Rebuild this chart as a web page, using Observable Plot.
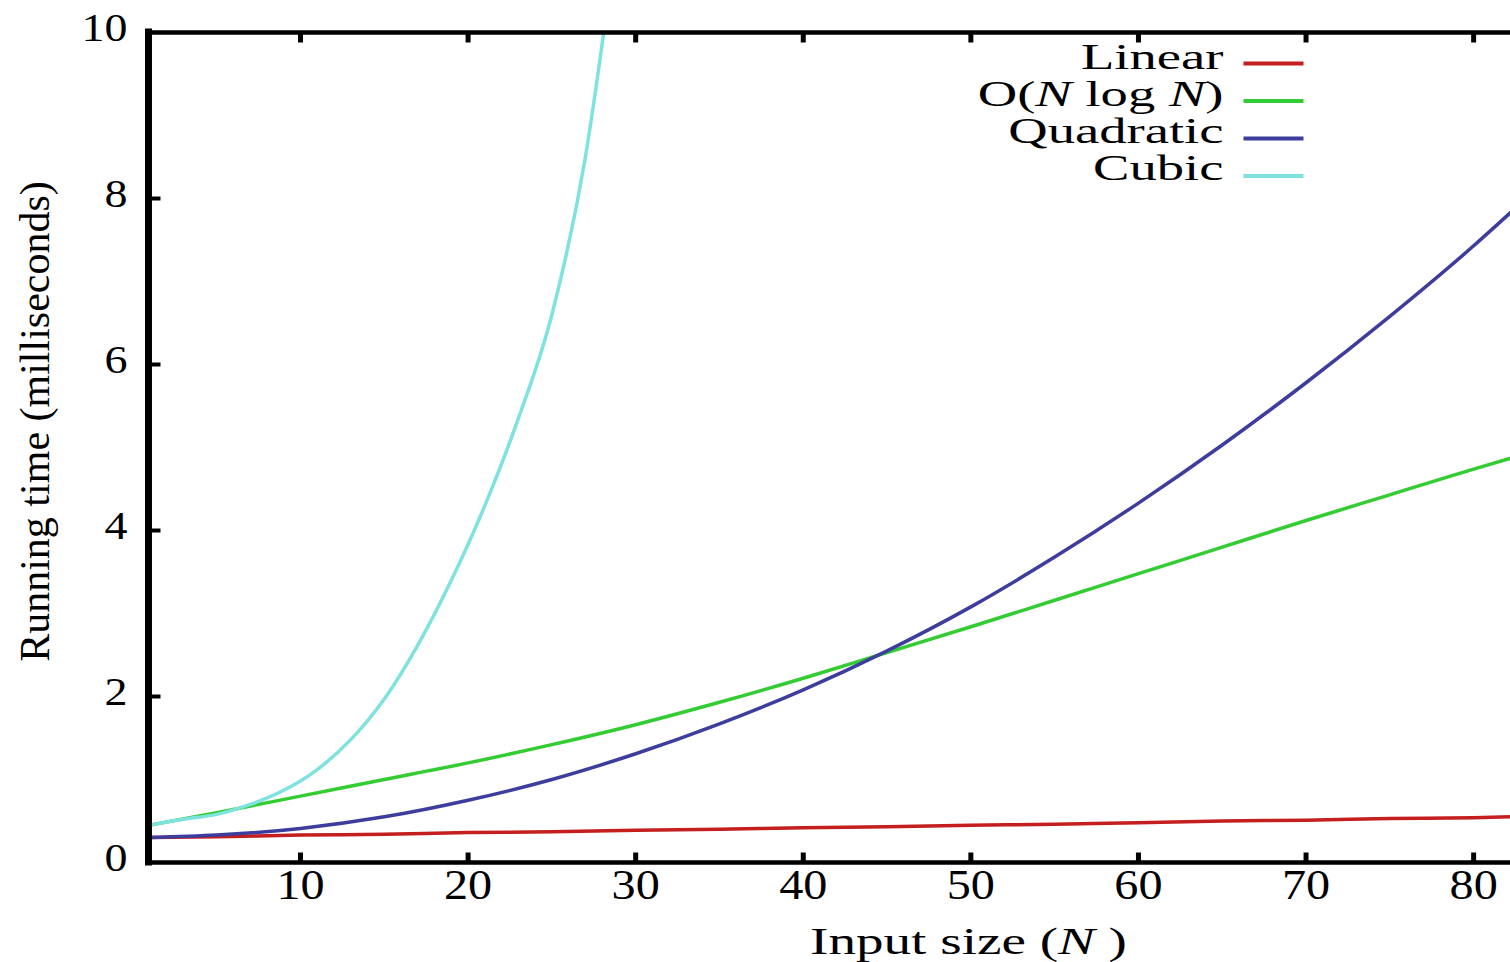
<!DOCTYPE html>
<html><head><meta charset="utf-8">
<script src="https://cdn.jsdelivr.net/npm/d3@7"></script>
<script src="https://cdn.jsdelivr.net/npm/@observablehq/plot@0.6"></script>
<style>html,body{margin:0;padding:0;background:#fff;overflow:hidden}</style>
</head><body><div id="chart"></div>
<script>
// ---- data ----
const seriesNames = ["Linear", "O(N log N)", "Quadratic", "Cubic"];
const seriesColors = ["#c41e1e", "#33cc33", "#3d3d9e", "#7ee2de"];

const xN = [1, 5, 10, 15, 20, 25, 30, 35, 40, 45, 50, 55, 60, 65, 70, 75, 80, 82.2];
const linear    = [0.30, 0.31, 0.33, 0.34, 0.36, 0.37, 0.39, 0.40, 0.42, 0.43, 0.45, 0.46, 0.48, 0.50, 0.51, 0.53, 0.54, 0.55];
const nlogn     = [0.45, 0.60, 0.80, 1.00, 1.20, 1.42, 1.66, 1.93, 2.22, 2.53, 2.84, 3.16, 3.48, 3.80, 4.12, 4.43, 4.74, 4.87];
const quadratic = [0.30, 0.33, 0.41, 0.55, 0.75, 1.00, 1.31, 1.67, 2.08, 2.55, 3.08, 3.68, 4.33, 5.03, 5.78, 6.58, 7.43, 7.83];

const xCubic = [1, 3, 5, 7, 9, 11, 13, 15, 17, 19, 21, 23, 25, 27, 28.5];
const cubic  = [0.45, 0.52, 0.58, 0.70, 0.87, 1.12, 1.48, 1.97, 2.62, 3.40, 4.30, 5.35, 6.60, 8.50, 10.6];

const xTicks = [10, 20, 30, 40, 50, 60, 70, 80];
const yTicks = [0, 2, 4, 6, 8, 10];
const yInnerTicks = [2, 4, 6, 8];
const xDomain = [0.93, 82.2];
const yDomain = [0, 10];
const xLabel = "Input size (N )";
const yLabel = "Running time (milliseconds)";

// ---- long table for the line mark ----
const rows = [];
const addSeries = (name, xs, ys) => xs.forEach((x, i) => rows.push({series: name, n: x, t: ys[i]}));
addSeries(seriesNames[0], xN, linear);
addSeries(seriesNames[1], xN, nlogn);
addSeries(seriesNames[2], xN, quadratic);
addSeries(seriesNames[3], xCubic, cubic);

// custom symbols for inward ticks and legend swatches
const tickUp    = {draw(c) { c.moveTo(0, 0); c.lineTo(0, -10); }};
const tickDown  = {draw(c) { c.moveTo(0, 0); c.lineTo(0, 10); }};
const tickRight = {draw(c) { c.moveTo(0, 0); c.lineTo(12, 0); }};
const swatch    = {draw(c) { c.moveTo(-30, 0); c.lineTo(30, 0); }};

const chart = Plot.plot({
  width: 1510,
  height: 962,
  marginLeft: 148,
  marginRight: 0,
  marginTop: 32,
  marginBottom: 100,
  style: {fontFamily: "'Liberation Serif', 'Times New Roman', serif", background: "#fff", color: "#000"},
  x: {domain: xDomain},
  y: {domain: yDomain},
  color: {domain: seriesNames, range: seriesColors},
  marks: [
    Plot.line(rows, {x: "n", y: "t", z: "series", stroke: "series", strokeWidth: 3.5, curve: "monotone-x", clip: true}),
    // frame (left, top, bottom)
    Plot.ruleY([yDomain[0], yDomain[1]], {stroke: "#000", strokeWidth: 4.5}),
    Plot.ruleX([xDomain[0]], {stroke: "#000", strokeWidth: 7, strokeLinecap: "square"}),
    // inward ticks
    Plot.dot(xTicks, {x: d => d, frameAnchor: "bottom", symbol: tickUp, stroke: "#000", strokeWidth: 5, fill: "none"}),
    Plot.dot(xTicks, {x: d => d, frameAnchor: "top", symbol: tickDown, stroke: "#000", strokeWidth: 5, fill: "none"}),
    Plot.dot(yInnerTicks, {y: d => d, frameAnchor: "left", symbol: tickRight, stroke: "#000", strokeWidth: 4, fill: "none"}),
    // tick labels
    Plot.axisX({ticks: xTicks, anchor: "bottom", tickSize: 0, tickPadding: 6, fontSize: 43, label: null}),
    Plot.axisY({ticks: yTicks, anchor: "left", tickSize: 0, tickPadding: 21, dy: -5, fontSize: 41, label: null}),
    // axis titles
    Plot.text([xLabel], {frameAnchor: "bottom", dx: 139, dy: 79, fontSize: 38, textAnchor: "middle", lineAnchor: "middle"}),
    Plot.text([yLabel], {frameAnchor: "left", rotate: -90, dx: -113, dy: -26, fontSize: 42, textAnchor: "middle", lineAnchor: "middle"}),
    // legend
    ...seriesNames.map((name, i) => Plot.text([name], {frameAnchor: "top-right", dx: -287, dy: 25 + i * 37, fontSize: 35, textAnchor: "end", lineAnchor: "middle"})),
    ...seriesNames.map((name, i) => Plot.dot([name], {frameAnchor: "top-right", dx: -237, dy: 31 + i * 37.5, symbol: swatch, stroke: seriesColors[i], strokeWidth: 4, fill: "none"}))
  ]
});

document.getElementById("chart").append(chart);

// italic N in labels
chart.querySelectorAll("text").forEach(t => {
  const s = t.textContent;
  if (s === xLabel || s === seriesNames[1]) {
    const parts = s.split("N");
    t.textContent = "";
    parts.forEach((p, i) => {
      if (p) t.appendChild(document.createTextNode(p));
      if (i < parts.length - 1) {
        const ts = document.createElementNS("http://www.w3.org/2000/svg", "tspan");
        ts.setAttribute("font-style", "italic");
        ts.textContent = "N";
        t.appendChild(ts);
      }
    });
  }
});

// the reference text is drawn horizontally stretched
const stretch = (t, f) => {
  const w = t.getComputedTextLength();
  if (w > 0) { t.setAttribute("textLength", (w * f).toFixed(1)); t.setAttribute("lengthAdjust", "spacingAndGlyphs"); }
};
chart.querySelectorAll("text").forEach(t => {
  const s = t.textContent;
  if (seriesNames.includes(s)) stretch(t, 1.56);
  else if (s === xLabel) stretch(t, 1.45);
  else if (s !== yLabel) stretch(t, 1.12);
});
</script>
</body></html>
